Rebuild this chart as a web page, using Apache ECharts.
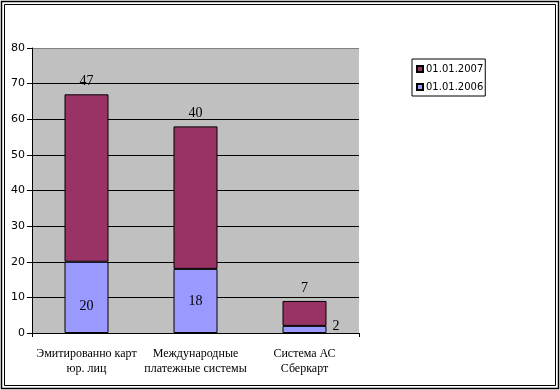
<!DOCTYPE html>
<html><head><meta charset="utf-8">
<script src="https://cdn.jsdelivr.net/npm/echarts@6/dist/echarts.min.js"></script>
<style>html,body{margin:0;padding:0;background:#fff}#c{width:560px;height:390px}</style>
</head><body><div id="c"></div>
<script>
const categories = ['Эмитированно карт\nюр. лиц', 'Международные\nплатежные системы', 'Система АС\nСберкарт'];
const values2006 = [20, 18, 2];
const values2007 = [47, 40, 7];
const seriesNames = ['01.01.2006', '01.01.2007'];
const yTicks = { min: 0, max: 80, interval: 10 };

const chart = echarts.init(document.getElementById('c'), null, {renderer: 'canvas'});
const gridColors = [];
for (let v = yTicks.min; v <= yTicks.max; v += yTicks.interval) gridColors.push(v === yTicks.max ? '#808080' : '#000');

function label2006(v, i) {
  if (v < 5) return {value: v, label: {position: 'right', distance: 6, offset: [0, -3]}};
  if (i === 0) return {value: v, label: {offset: [0, 9]}};
  return v;
}

chart.setOption({
  animation: false,
  backgroundColor: '#fff',
  graphic: [
    {type: 'rect', shape: {x: 1.5, y: 1.5, width: 557, height: 387}, style: {fill: 'none', stroke: '#000', lineWidth: 1.5}},
    {type: 'rect', shape: {x: 4.5, y: 4.5, width: 551, height: 381}, style: {fill: 'none', stroke: '#000', lineWidth: 1}},
    {type: 'rect', z: -1, shape: {x: 358.5, y: 48.5, width: 0, height: 284}, style: {fill: 'none', stroke: '#808080', lineWidth: 1}}
  ],
  grid: {left: 32, top: 48, width: 327, height: 285, show: true, backgroundColor: '#c0c0c0', borderWidth: 0},
  legend: {
    data: [seriesNames[1], seriesNames[0]],
    orient: 'vertical', left: 412, top: 59,
    padding: [5, 2, 4, 4], itemGap: 8,
    itemWidth: 6, itemHeight: 6, icon: 'rect',
    borderColor: '#000', borderWidth: 1,
    textStyle: {fontFamily: 'DejaVu Sans', fontSize: 10, color: '#000', padding: [0, 0, 0, -2]}
  },
  xAxis: {
    type: 'category', data: categories,
    axisLine: {lineStyle: {color: '#000', width: 1}},
    axisTick: {show: true, length: 4, interval: function (i) { return i === 0; }, lineStyle: {color: '#000'}},
    axisLabel: {fontFamily: 'Liberation Serif', fontSize: 12, color: '#000', lineHeight: 15, margin: 13, interval: 0}
  },
  yAxis: {
    type: 'value', min: yTicks.min, max: yTicks.max, interval: yTicks.interval,
    axisLine: {show: true, lineStyle: {color: '#000', width: 1}},
    axisTick: {show: true, length: 5, lineStyle: {color: '#000'}},
    axisLabel: {fontFamily: 'DejaVu Sans', fontSize: 11, color: '#000', margin: 7},
    splitLine: {show: true, lineStyle: {color: gridColors, width: 1}}
  },
  series: [
    {
      name: seriesNames[0], type: 'bar', stack: 's', barWidth: 44,
      itemStyle: {color: '#9999ff', borderColor: '#000', borderWidth: 1},
      data: values2006.map(label2006),
      label: {show: true, position: 'inside', fontFamily: 'Liberation Serif', fontSize: 14, color: '#000'}
    },
    {
      name: seriesNames[1], type: 'bar', stack: 's', barWidth: 44,
      itemStyle: {color: '#993366', borderColor: '#000', borderWidth: 1},
      data: values2007,
      label: {show: true, position: 'top', distance: 6, fontFamily: 'Liberation Serif', fontSize: 14, color: '#000'}
    }
  ]
});
</script></body></html>
